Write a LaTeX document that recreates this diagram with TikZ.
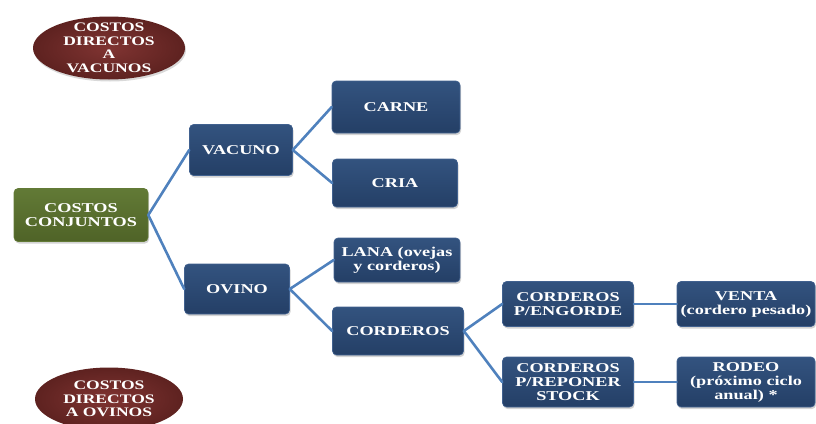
\documentclass[tikz,border=0pt]{standalone}
\usepackage{fontspec}
\setmainfont{Liberation Serif}[FakeStretch=1.35]
\usetikzlibrary{shadows}
\definecolor{bluetop}{HTML}{33537F}
\definecolor{bluebot}{HTML}{243F66}
\definecolor{blueedge}{HTML}{41618F}
\definecolor{greentop}{HTML}{627A36}
\definecolor{greenbot}{HTML}{4F6327}
\definecolor{redin}{HTML}{803432}
\definecolor{redout}{HTML}{5E2220}
\definecolor{linkblue}{HTML}{4F81BD}
\begin{document}
\begin{tikzpicture}[x=1pt,y=-1pt, font=\bfseries\fontsize{13.5}{14}\selectfont, line join=round, line cap=round,
  box/.style={rectangle, rounded corners=4pt, draw=blueedge, line width=0.6pt, top color=bluetop, bottom color=bluebot,
    text=white, align=center, inner sep=0pt, drop shadow={opacity=0.35, shadow xshift=1pt, shadow yshift=-2pt}},
  gbox/.style={box, draw=greentop, top color=greentop, bottom color=greenbot},
  link/.style={draw=linkblue, line width=2.6pt},
  elltext/.style={text=white, align=center, inner sep=0pt, font=\bfseries\fontsize{13}{13.5}\selectfont}]
\useasboundingbox (0,0) rectangle (816,423);
\clip (0,0) rectangle (816,423);
% costos directos
\shade[inner color=redin, outer color=redout, drop shadow={opacity=0.3, shadow xshift=1pt, shadow yshift=-2pt}] (109,48) ellipse [x radius=76, y radius=31.5];
\node[elltext] (dirvac) at (109,48) {COSTOS\\DIRECTOS\\A\\VACUNOS};
\shade[inner color=redin, outer color=redout] (109,399) ellipse [x radius=74, y radius=31.5];
\node[elltext] (dirovi) at (109,399) {COSTOS\\DIRECTOS\\A OVINOS};
% arbol
\node[gbox, minimum width=134, minimum height=53] (conj) at (81,215) {COSTOS\\CONJUNTOS};
\node[box, minimum width=103, minimum height=51] (vac) at (241,150) {VACUNO};
\node[box, minimum width=105, minimum height=50] (ovi) at (237,289) {OVINO};
\node[box, minimum width=128, minimum height=52] (carne) at (396,107) {CARNE};
\node[box, minimum width=125, minimum height=48] (cria) at (395,183) {CRIA};
\node[box, minimum width=126, minimum height=44] (lana) at (397,260) {LANA (ovejas\\y corderos)};
\node[box, minimum width=131, minimum height=48] (cord) at (398,331) {CORDEROS};
\node[box, minimum width=131, minimum height=45] (engo) at (568,304) {CORDEROS\\P/ENGORDE};
\node[box, minimum width=138, minimum height=45] (venta) at (746,304) {VENTA\\(cordero pesado)};
\node[box, minimum width=131, minimum height=50] (repo) at (568,382) {CORDEROS\\P/REPONER\\STOCK};
\node[box, minimum width=138, minimum height=50] (rodeo) at (746,382) {RODEO\\(próximo ciclo\\anual) *};
\foreach \a/\b in {conj/vac,conj/ovi,vac/carne,vac/cria,ovi/lana,ovi/cord,cord/engo,cord/repo,engo/venta,repo/rodeo}
  \draw[link] (\a.east) -- (\b.west);
\end{tikzpicture}
\end{document}
